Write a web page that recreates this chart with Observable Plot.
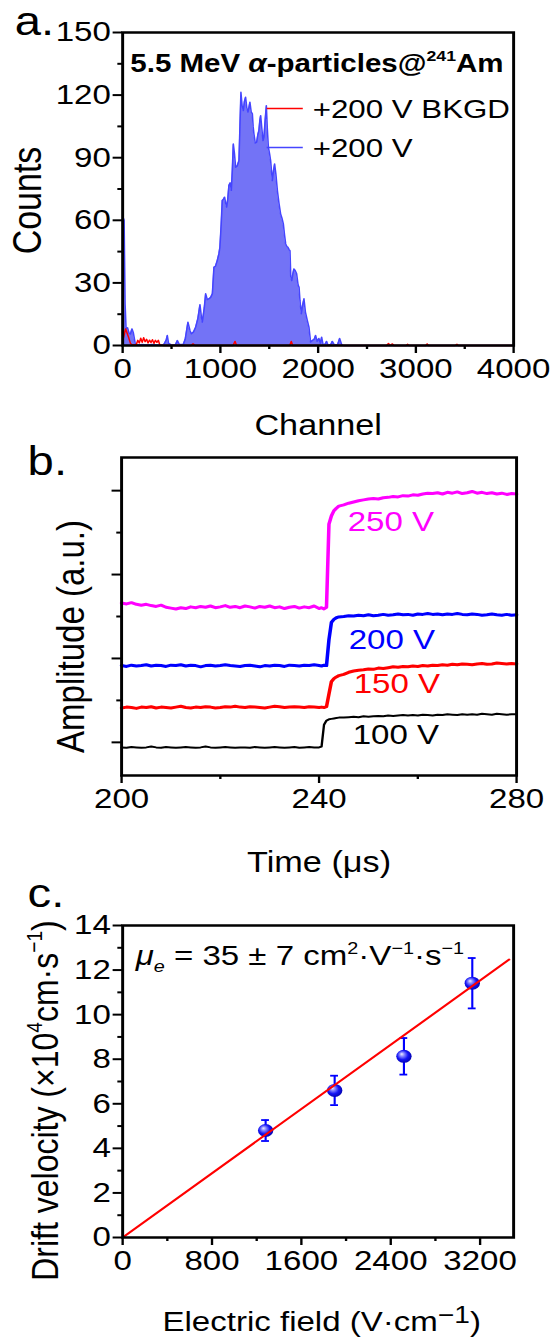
<!DOCTYPE html>
<html><head><meta charset="utf-8">
<script src="https://cdn.jsdelivr.net/npm/d3@7"></script>
<script src="https://cdn.jsdelivr.net/npm/@observablehq/plot@0.6"></script>
<style>
body{margin:0;background:#fff;}
#chart{width:556px;height:1340px;overflow:hidden;background:#fff;}
#chart svg{display:block;}
</style></head><body><div id="chart"></div>
<script>
// ---------- Panel a: alpha spectrum ----------
const chSignal = [0,15,25,35,50,65,80,95,110,130,160,200,250,300,350,420,445,457,470,500,540,560,580,620,640,668,690,703,725,747,770,791,805,815,835,849,866,883,900,918,934,950,968,985,995,1008,1019,1030,1043,1055,1064,1075,1087,1100,1112,1122,1132,1144,1156,1172,1190,1200,1210,1222,1235,1246,1258,1270,1282,1292,1302,1315,1327,1335,1343,1357,1371,1383,1394,1404,1412,1424,1436,1446,1458,1470,1480,1491,1503,1514,1531,1544,1555,1568,1583,1600,1616,1630,1644,1656,1668,1680,1691,1703,1712,1720,1730,1740,1752,1765,1780,1795,1805,1814,1828,1840,1855,1870,1889,1906,1923,1941,1960,1974,1990,2008,2022,2036,2050,2070,2087,2100,2130,2145,2165,2200,2220,2240,2260,4000];
const cntSignal = [62,60,20,8,8.5,6,5.5,8,6,0.5,0.3,0.5,0.3,0.5,0.3,0.4,2.5,4.8,1,0.3,0.4,2.4,0.5,0.5,3,11.2,7,5.6,6.5,8.8,13,19.6,14,11.2,18,24.8,22,22.4,23,24.8,37.5,38,40.7,44,47.1,58,69.5,70,71.1,68,66.3,70,76.7,78,74.3,84,96.6,92,85.4,86,88.6,105,121.4,115,112.6,117,119,114,111.8,114,116.6,112,111,105,101.4,97,97.4,101,103,108,110.2,104,98.2,100,108,115,104,95,92,88.6,79,84,87,82,74.3,68,63.1,61,58.3,53,48.7,47.5,47.1,46,45.5,33,31.1,34,36.7,36,34.4,29,27.9,21.6,15.2,19,22.4,16,12,8.8,1.6,2.4,3,4.8,2,3.4,1,4,0.5,0.5,2,0.3,0.5,2,0.3,0.5,3.4,0.5,0,0];
const chBkgd = [0,15,30,45,60,80,100,140,155,170,185,200,215,230,245,260,275,290,305,320,335,350,365,380,420,700,720,740,1130,1150,1165,1710,1725,1740,2700,2720,2735,2760,2775,2900,2915,2930,3100,3115,3130,3400,3420,3435,4000];
const cntBkgd = [2,5,8,6,4,1,0.3,0.5,2.5,1.2,3.5,1.5,3.8,1.8,3,1.2,2.6,1.4,2.8,1,2.5,1.5,2.5,0.3,0,0,0.8,0,0,2,0,0,2,0,0,1,0,0.8,0,0,0.6,0,0,0.8,0,0,0.6,0,0];
const chTicks = [0,1000,2000,3000,4000];
const chMinor = [500,1500,2500,3500];
const countTicks = [0,30,60,90,120,150];
const countMinor = [15,45,75,105,135];
const legendA = ["+200 V BKGD", "+200 V"];

// ---------- Panel b: pulses ----------
const timeUs = [200,201,202,203,204,205,206,207,208,209,210,211,212,213,214,215,216,217,218,219,220,221,222,223,224,225,226,227,228,229,230,231,232,233,234,235,236,237,238,239,240,
 240.5,241,241.5,242,242.5,243,243.5,244,
 245,246,247,248,249,250,251,252,253,254,255,256,257,258,259,260,261,262,263,264,265,266,267,268,269,270,271,272,273,274,275,276,277,278,279,280];
const amp100 = [0.88,0.87,0.89,0.88,0.87,0.88,0.90,0.88,0.87,0.89,0.88,0.87,0.88,0.89,0.88,0.87,0.88,0.90,0.88,0.87,0.88,0.89,0.88,0.87,0.88,0.88,0.87,0.89,0.88,0.87,0.88,0.89,0.88,0.87,0.88,0.89,0.87,0.88,0.89,0.88,0.88,
 0.90,1.42,1.52,1.55,1.56,1.57,1.58,1.59,
 1.59,1.60,1.61,1.60,1.62,1.61,1.62,1.63,1.62,1.64,1.63,1.64,1.65,1.64,1.65,1.64,1.66,1.65,1.64,1.66,1.65,1.67,1.66,1.65,1.67,1.66,1.67,1.66,1.68,1.67,1.66,1.68,1.67,1.66,1.67,1.67];
const amp150 = [1.82,1.84,1.83,1.81,1.84,1.83,1.85,1.82,1.84,1.83,1.82,1.84,1.86,1.83,1.82,1.84,1.83,1.85,1.84,1.82,1.83,1.85,1.84,1.86,1.84,1.83,1.85,1.84,1.83,1.82,1.84,1.86,1.85,1.83,1.84,1.85,1.84,1.83,1.85,1.84,1.83,
 1.84,1.83,1.85,2.15,2.45,2.52,2.56,2.59,
 2.62,2.67,2.70,2.72,2.73,2.75,2.74,2.77,2.76,2.78,2.80,2.79,2.81,2.80,2.82,2.81,2.83,2.82,2.84,2.83,2.85,2.84,2.86,2.85,2.87,2.86,2.85,2.87,2.88,2.86,2.87,2.89,2.88,2.87,2.88,2.87];
const amp200 = [2.83,2.81,2.84,2.82,2.83,2.85,2.82,2.84,2.83,2.81,2.84,2.83,2.85,2.82,2.84,2.83,2.80,2.83,2.84,2.82,2.83,2.85,2.83,2.82,2.81,2.83,2.84,2.82,2.80,2.83,2.82,2.84,2.83,2.81,2.84,2.83,2.82,2.84,2.83,2.85,2.83,
 2.82,2.84,2.83,3.45,3.86,3.93,3.97,3.99,
 4.00,4.02,4.01,4.03,4.02,4.04,4.02,4.03,4.05,4.03,4.04,4.06,4.04,4.05,4.03,4.06,4.05,4.07,4.05,4.06,4.04,4.06,4.05,4.07,4.05,4.04,4.06,4.05,4.03,4.04,4.06,4.04,4.03,4.05,4.03,4.04];
const amp250 = [4.32,4.30,4.33,4.29,4.27,4.29,4.26,4.24,4.27,4.22,4.20,4.18,4.21,4.19,4.23,4.21,4.24,4.22,4.25,4.21,4.23,4.26,4.22,4.24,4.21,4.25,4.23,4.20,4.24,4.22,4.25,4.21,4.23,4.19,4.22,4.24,4.20,4.23,4.21,4.25,4.19,
 4.21,4.18,4.22,6.20,6.40,6.52,6.58,6.63,
 6.66,6.70,6.73,6.76,6.78,6.80,6.81,6.80,6.83,6.84,6.86,6.85,6.88,6.87,6.90,6.89,6.92,6.94,6.93,6.95,6.92,6.96,6.94,6.97,6.93,6.95,6.98,6.94,6.96,6.93,6.95,6.92,6.94,6.91,6.93,6.92];
const biasLabels = ["100 V","150 V","200 V","250 V"];
const biasColors = ["#000000","#ff0000","#0000ff","#ff00ff"];
const biasWidths = [2,3,3,3];
const labelTime = [246.8,247.0,246.0,245.8];
const labelAmp = [1.17,2.40,3.43,6.24];
const timeTicks = [200,240,280];
const timeMinor = [220,260];
const ampTicks = [1,3,5,7];
const ampMinor = [2,4,6];

// ---------- Panel c: drift velocity ----------
const fieldVcm = [1280,1898,2518,3130];
const driftVel = [4.80,6.60,8.13,11.41];
const driftErr = [0.47,0.66,0.82,1.13];
const fitField = [0,3460];
const fitVel = [0,12.47];
const fieldTicks = [0,800,1600,2400,3200];
const fieldMinor = [400,1200,2000,2800];
const velTicks = [0,2,4,6,8,10,12,14];
const velMinor = [1,3,5,7,9,11,13];

// ---------- layout helpers ----------
const FONT = "'Liberation Sans', Arial, Helvetica, sans-serif";
const W0 = 471;
const hline = {draw(ctx, size) { const r = Math.sqrt(size / Math.PI); ctx.moveTo(-r, 0); ctx.lineTo(r, 0); }};
function styleOf() { return {fontFamily: FONT, fontSize: "28px", color: "black", background: "white", overflow: "visible"}; }
function lbl(str, o) { return Plot.text([str], {x: null, y: null, text: d => d, fill: "black", textAnchor: "middle", lineAnchor: "middle", ...o}); }

// Panel a
const sig = chSignal.map((c, i) => ({ch: c, n: cntSignal[i]}));
const bkg = chBkgd.map((c, i) => ({ch: c, n: cntBkgd[i]}));
const svgA = Plot.plot({
  width: W0, height: 440, marginLeft: 103.4, marginRight: 36.4, marginTop: 32, marginBottom: 95,
  style: styleOf(),
  x: {domain: [0, 4000]}, y: {domain: [0, 150]},
  marks: [
    Plot.areaY(sig, {x: "ch", y: "n", fill: "#7373f6", curve: "linear"}),
    Plot.lineY(sig, {x: "ch", y: "n", stroke: "#4545ff", strokeWidth: 1.3}),
    Plot.lineY(bkg, {x: "ch", y: "n", stroke: "#ff0000", strokeWidth: 1.3}),
    Plot.frame({stroke: "black", strokeWidth: 2.5}),
    Plot.axisX(chTicks, {tickSize: 8, tickPadding: 5, strokeWidth: 2, fontSize: 28, tickFormat: d => String(d), label: null}),
    Plot.axisX(chMinor, {tickSize: 4, strokeWidth: 2, tickFormat: () => null, label: null}),
    Plot.axisY(countTicks, {tickSize: 8, tickPadding: 2, strokeWidth: 2, fontSize: 28, tickFormat: d => String(d), label: null}),
    Plot.axisY(countMinor, {tickSize: 4, strokeWidth: 2, tickFormat: () => null, label: null}),
    lbl("5.5 MeV ~{α}-particles@^{241}Am", {frameAnchor: "top", dx: -1, dy: 31, fontSize: 25, fontWeight: "bold"}),
    Plot.dot([0], {x: null, y: null, frameAnchor: "top-left", dx: 137.3, dy: 76, r: 15.3, symbol: hline, stroke: "#ff0000", strokeWidth: 1.5, fill: "none"}),
    Plot.dot([0], {x: null, y: null, frameAnchor: "top-left", dx: 137.3, dy: 115, r: 15.3, symbol: hline, stroke: "#4545ff", strokeWidth: 1.5, fill: "none"}),
    lbl(legendA[0], {frameAnchor: "top-left", dx: 161, dy: 77, textAnchor: "start", fontSize: 26.5}),
    lbl(legendA[1], {frameAnchor: "top-left", dx: 161, dy: 116, textAnchor: "start", fontSize: 26.5}),
    lbl("Counts", {frameAnchor: "left", dx: -79.7, dy: 11.5, rotate: -90, fontSize: 34}),
    lbl("Channel", {frameAnchor: "bottom", dx: 0, dy: 80, fontSize: 29}),
    lbl("a.", {frameAnchor: "top-left", dx: -91.5, dy: -10, textAnchor: "start", fontSize: 40})
  ]
});

// Panel b
const traces = [amp100, amp150, amp200, amp250].map((arr, k) => timeUs.map((t, i) => ({t, a: arr[i], k})));
const tLabels = biasLabels.map((s, k) => ({s, t: labelTime[k], a: labelAmp[k], c: biasColors[k]}));
const svgB = Plot.plot({
  width: W0, height: 440, marginLeft: 102.5, marginRight: 33.9, marginTop: 17, marginBottom: 105,
  style: styleOf(),
  x: {domain: [200, 280]}, y: {domain: [0.21, 7.79]},
  marks: [
    ...traces.map((tr, k) => Plot.line(tr, {x: "t", y: "a", stroke: biasColors[k], strokeWidth: biasWidths[k], strokeLinejoin: "round"})),
    Plot.text(tLabels, {x: "t", y: "a", text: "s", fill: d => d.c, textAnchor: "start", fontSize: 28}),
    Plot.frame({stroke: "black", strokeWidth: 2.5}),
    Plot.axisX(timeTicks, {tickSize: 8, tickPadding: 5, strokeWidth: 2, fontSize: 28, tickFormat: d => String(d), label: null}),
    Plot.axisX(timeMinor, {tickSize: 4, strokeWidth: 2, tickFormat: () => null, label: null}),
    Plot.axisY(ampTicks, {tickSize: 8, strokeWidth: 2, tickFormat: () => null, label: null}),
    Plot.axisY(ampMinor, {tickSize: 4, strokeWidth: 2, tickFormat: () => null, label: null}),
    lbl("Amplitude (a.u.)", {frameAnchor: "left", dx: -42.5, dy: 20, rotate: -90, fontSize: 33}),
    lbl("Time (μs)", {frameAnchor: "bottom", dx: 0, dy: 87, fontSize: 29}),
    lbl("b.", {frameAnchor: "top-left", dx: -79.6, dy: 5, textAnchor: "start", fontSize: 40})
  ]
});

// Panel c
const pts = fieldVcm.map((f, i) => ({f, v: driftVel[i], e: driftErr[i]}));
const fit = fitField.map((f, i) => ({f, v: fitVel[i]}));
const svgC = Plot.plot({
  width: W0, height: 460, marginLeft: 103.4, marginRight: 36.4, marginTop: 45, marginBottom: 103,
  style: styleOf(),
  x: {domain: [0, 3500]}, y: {domain: [0, 14]},
  marks: [
    Plot.ruleX(pts, {x: "f", y1: d => d.v - d.e, y2: d => d.v + d.e, stroke: "#0000ff", strokeWidth: 1.8}),
    Plot.ruleY(pts, {y: d => d.v + d.e, x1: d => d.f - 35, x2: d => d.f + 35, stroke: "#0000ff", strokeWidth: 1.8}),
    Plot.ruleY(pts, {y: d => d.v - d.e, x1: d => d.f - 35, x2: d => d.f + 35, stroke: "#0000ff", strokeWidth: 1.8}),
    Plot.dot(pts, {x: "f", y: "v", r: 6.5, fill: "#0000ff", stroke: "none"}),
    Plot.line(fit, {x: "f", y: "v", stroke: "#ff0000", strokeWidth: 2}),
    lbl("~{μ}_{e} = 35 ± 7 cm^{2}·V^{−1}·s^{−1}", {frameAnchor: "top-left", dx: 11, dy: 31, textAnchor: "start", fontSize: 28}),
    Plot.frame({stroke: "black", strokeWidth: 2.5}),
    Plot.axisX(fieldTicks, {tickSize: 8, tickPadding: 5, strokeWidth: 2, fontSize: 28, tickFormat: d => String(d), label: null}),
    Plot.axisX(fieldMinor, {tickSize: 4, strokeWidth: 2, tickFormat: () => null, label: null}),
    Plot.axisY(velTicks, {tickSize: 8, tickPadding: 2, strokeWidth: 2, fontSize: 28, tickFormat: d => String(d), label: null}),
    Plot.axisY(velMinor, {tickSize: 4, strokeWidth: 2, tickFormat: () => null, label: null}),
    lbl("Drift velocity (×10^{4}cm·s^{−1})", {frameAnchor: "left", dx: -65.4, dy: 19, rotate: -90, fontSize: 32}),
    lbl("Electric field (V·cm`{−1})", {frameAnchor: "bottom", dx: 3, dy: 85, fontSize: 28}),
    lbl("c.", {frameAnchor: "top-left", dx: -80.5, dy: -31, textAnchor: "start", fontSize: 40})
  ]
});

const root = document.getElementById("chart");
const NS = "http://www.w3.org/2000/svg";
[[svgA, 440], [svgB, 440], [svgC, 460]].forEach(([svg, h]) => {
  root.appendChild(svg);
  svg.setAttribute("viewBox", `0 0 ${W0} ${h}`);
  svg.setAttribute("width", 556);
  svg.setAttribute("height", h);
  svg.setAttribute("preserveAspectRatio", "none");
  svg.style.width = "556px"; svg.style.height = h + "px"; svg.style.maxWidth = "none";
  richify(svg);
});

// sphere gradient for panel c markers
(function () {
  const defs = document.createElementNS(NS, "defs");
  const g = document.createElementNS(NS, "radialGradient");
  g.setAttribute("id", "ball");
  g.setAttribute("cx", "0.45"); g.setAttribute("cy", "0.45"); g.setAttribute("r", "0.6");
  g.setAttribute("fx", "0.35"); g.setAttribute("fy", "0.32");
  [["0", "#f0f0ff"], ["0.25", "#8a8aff"], ["0.6", "#1414f5"], ["1", "#0000a8"]].forEach(([o, c]) => {
    const s = document.createElementNS(NS, "stop");
    s.setAttribute("offset", o); s.setAttribute("stop-color", c); g.appendChild(s);
  });
  defs.appendChild(g);
  svgC.insertBefore(defs, svgC.firstChild);
  svgC.querySelectorAll('g[aria-label="dot"]').forEach(gr => {
    gr.setAttribute("fill", "url(#ball)");
    gr.querySelectorAll("circle,path").forEach(c => c.setAttribute("fill", "url(#ball)"));
  });
})();

function richify(svg) {
  svg.querySelectorAll("text").forEach(t => {
    const s = t.textContent;
    if (!/[\^_~`]\{/.test(s)) return;
    const fs = parseFloat(getComputedStyle(t).fontSize) || 28;
    while (t.firstChild) t.removeChild(t.firstChild);
    const re = /([\^_~`])\{([^}]*)\}/g;
    let last = 0, m, shift = 0, first = true;
    const add = (str, kind) => {
      if (!str) return;
      const ts = document.createElementNS(NS, "tspan");
      ts.textContent = str;
      let target = 0;
      if (kind === "^") { ts.setAttribute("font-size", (fs * 0.6).toFixed(1)); target = -0.42 * fs; }
      else if (kind === "`") { ts.setAttribute("font-size", (fs * 0.85).toFixed(1)); target = -0.3 * fs; }
      else if (kind === "_") { ts.setAttribute("font-size", (fs * 0.6).toFixed(1)); ts.setAttribute("font-style", "italic"); target = 0.25 * fs; }
      else if (kind === "~") { ts.setAttribute("font-style", "italic"); }
      const d = target - shift;
      if (Math.abs(d) > 0.01 && !first) ts.setAttribute("dy", d.toFixed(2));
      shift = first ? 0 : target;
      first = false;
      t.appendChild(ts);
    };
    while ((m = re.exec(s))) {
      if (m.index > last) add(s.slice(last, m.index), null);
      add(m[2], m[1]);
      last = re.lastIndex;
    }
    if (last < s.length) add(s.slice(last), null);
  });
}
</script></body></html>
